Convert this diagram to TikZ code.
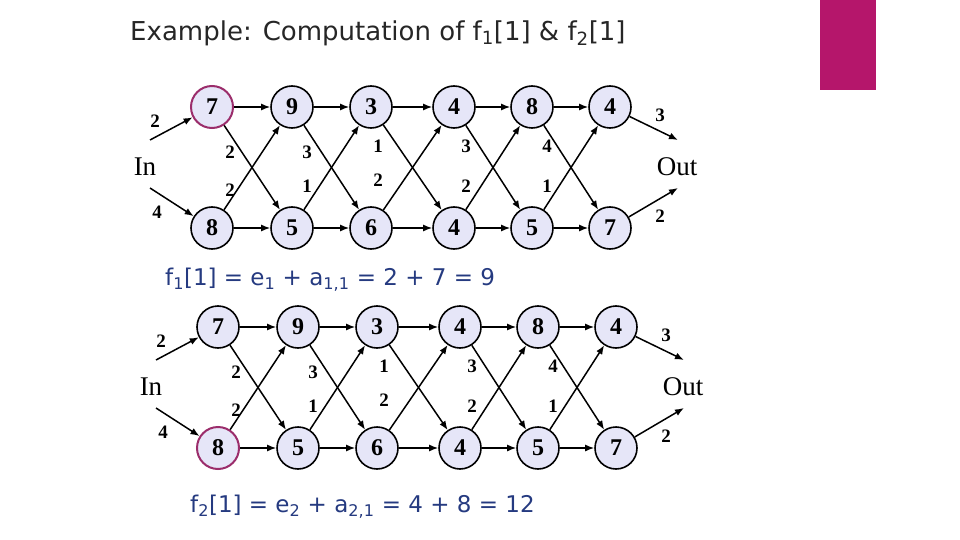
\documentclass[tikz,border=0pt]{standalone}
\usepackage{fontspec}
\usetikzlibrary{arrows.meta}
\setmainfont{Liberation Serif}
\newfontfamily\sansf{DejaVu Sans}
\begin{document}
\begin{tikzpicture}[x=1pt,y=-1pt,
  st/.style={circle,draw=black,line width=1.6pt,fill=nodefill,minimum size=42pt,inner sep=0pt,font=\fontsize{24}{24}\selectfont\bfseries},
  ar/.style={-{Latex[length=9pt,width=7pt]},line width=1.5pt},
  lb/.style={font=\fontsize{19}{19}\selectfont\bfseries,inner sep=0pt},
  io/.style={font=\fontsize{27}{27}\selectfont,inner sep=0pt},
  fm/.style={font=\sansf\fontsize{23}{23}\selectfont,text=formcol,inner sep=0pt,anchor=west},
  hl-A-t1/.style={draw=hlc,line width=2pt},
  hl-B-b1/.style={draw=hlc,line width=2pt}]
\definecolor{nodefill}{HTML}{E6E6F8}
\definecolor{hlc}{HTML}{9B2D6B}
\definecolor{formcol}{HTML}{253A80}
\definecolor{mag}{HTML}{B5166B}
\useasboundingbox (0,0) rectangle (960,540);
\fill[mag] (820,0) rectangle (876,90);
\node[anchor=west,inner sep=0pt,font=\sansf\fontsize{26}{26}\selectfont,text=black!85] (title) at (130,33) {Example: Computation of f\textsubscript{1}[1] \& f\textsubscript{2}[1]};
\foreach \p/\dx/\dy in {A/0/0,B/6/220}{
 \begin{scope}[shift={(\dx,\dy)}]
 \foreach \i/\x/\tv/\bv in {1/212/7/8,2/292/9/5,3/371/3/6,4/454/4/4,5/532/8/5,6/610/4/7}{
   \node[st,hl-\p-t\i/.try] (\p t\i) at (\x,107) {\tv};
   \node[st,hl-\p-b\i/.try] (\p b\i) at (\x,228) {\bv};
 }
 \node[io] (\p in) at (145,167) {In};
 \node[io] (\p out) at (677,167) {Out};
 \coordinate (\p s1) at (150,140);
 \coordinate (\p s2) at (150,188);
 \coordinate (\p e1) at (678,140);
 \coordinate (\p e2) at (678,188);
 \draw[ar] (\p s1) -- (\p t1);
 \draw[ar] (\p s2) -- (\p b1);
 \draw[ar] (\p t6) -- (\p e1);
 \draw[ar] (\p b6) -- (\p e2);
 \foreach \i/\j in {1/2,2/3,3/4,4/5,5/6}{
   \draw[ar] (\p t\i) -- (\p t\j);
   \draw[ar] (\p b\i) -- (\p b\j);
   \draw[ar] (\p t\i) -- (\p b\j);
   \draw[ar] (\p b\i) -- (\p t\j);
 }
 \node[lb] (\p l1) at (155,121) {2};
 \node[lb] (\p l2) at (157,212) {4};
 \node[lb] (\p l3) at (660,115) {3};
 \node[lb] (\p l4) at (660,216) {2};
 \foreach \k/\x/\y/\v in {a/230/152/2,b/307/152/3,c/378/146/1,d/466/146/3,e/547/146/4,
   f/230/190/2,g/307/186/1,h/378/180/2,i/466/186/2,j/547/186/1}{
   \node[lb] (\p c\k) at (\x,\y) {\v};
 }
 \end{scope}
}
\node[fm] (f1) at (165,280) {f\textsubscript{1}[1] = e\textsubscript{1} + a\textsubscript{1,1} = 2 + 7 = 9};
\node[fm] (f2) at (190,507) {f\textsubscript{2}[1] = e\textsubscript{2} + a\textsubscript{2,1} = 4 + 8 = 12};
\end{tikzpicture}
\end{document}
